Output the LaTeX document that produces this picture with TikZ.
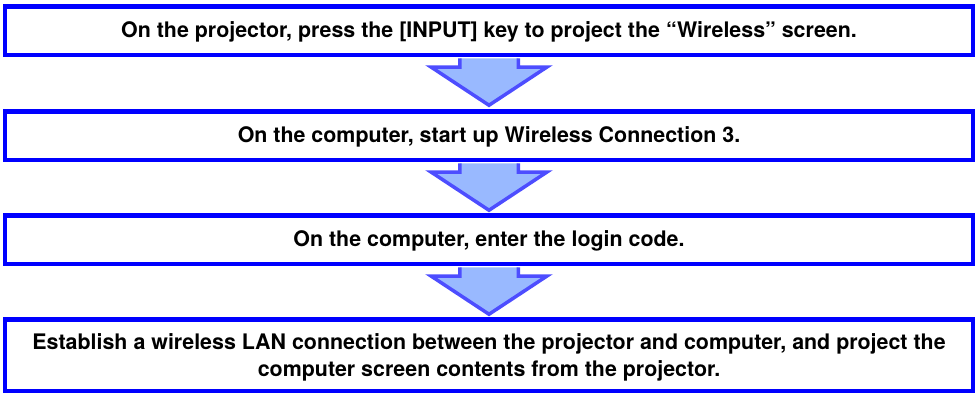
\documentclass[tikz,border=0pt]{standalone}
\usepackage{fontspec}
\setmainfont{TeX Gyre Heros}
\usetikzlibrary{calc}
\definecolor{boxblue}{RGB}{0,0,255}
\definecolor{arrowline}{RGB}{77,77,255}
\definecolor{arrowfill}{RGB}{153,185,255}
\tikzset{
  stepbox/.style={draw=boxblue, line width=4.5bp, rectangle, minimum width=967.5bp,
    inner sep=0pt,
    font=\bfseries\fontsize{21.4bp}{26.7bp}\selectfont},
  onelinebox/.style={stepbox, minimum height=48.5bp, text height=15.4bp, text depth=1.8bp},
  twolinebox/.style={stepbox, minimum height=71.5bp, text height=44bp, text depth=2bp},
  blockarrow/.style={draw=arrowline, line width=3.5bp, line join=miter},
  arrowbody/.style={fill=arrowfill},
}
\newcommand\flowarrow[1]{%
  \fill[white] ($(#1.south)+(-64,1.25)$) rectangle ($(#1.south)+(64,10)$);
  \fill[arrowbody] ($(#1.south)+(-29.25,1.25)$) -- ($(#1.south)+(-29.25,10)$)
    -- ($(#1.south)+(-58,10)$) -- ($(#1.south)+(0,48.25)$)
    -- ($(#1.south)+(58,10)$) -- ($(#1.south)+(29.25,10)$)
    -- ($(#1.south)+(29.25,1.25)$) -- cycle;
  \draw[blockarrow] ($(#1.south)+(-29.25,1.25)$) -- ($(#1.south)+(-29.25,10)$)
    -- ($(#1.south)+(-58,10)$) -- ($(#1.south)+(0,48.25)$)
    -- ($(#1.south)+(58,10)$) -- ($(#1.south)+(29.25,10)$)
    -- ($(#1.south)+(29.25,1.25)$);
}
\newcommand\twolines[2]{\vbox{\hbox to 940bp{\hfil#1\hfil}\hbox to 940bp{\hfil#2\hfil}}}
\begin{document}
\begin{tikzpicture}[x=1bp,y=-1bp]
\useasboundingbox (0,0) rectangle (977,394);
\node[onelinebox] (s1) at (489,30.5)
  {On the projector, press the [INPUT] key to project the “Wireless” screen.};
\node[onelinebox] (s2) at (489,135.5)
  {On the computer, start up Wireless Connection 3.};
\node[onelinebox] (s3) at (489,239.5)
  {On the computer, enter the login code.};
\node[twolinebox] (s4) at (489,355)
  {\twolines{Establish a wireless LAN connection between the projector and computer, and project the}
   {computer screen contents from the projector.}};
\flowarrow{s1}
\flowarrow{s2}
\flowarrow{s3}
\end{tikzpicture}
\end{document}
